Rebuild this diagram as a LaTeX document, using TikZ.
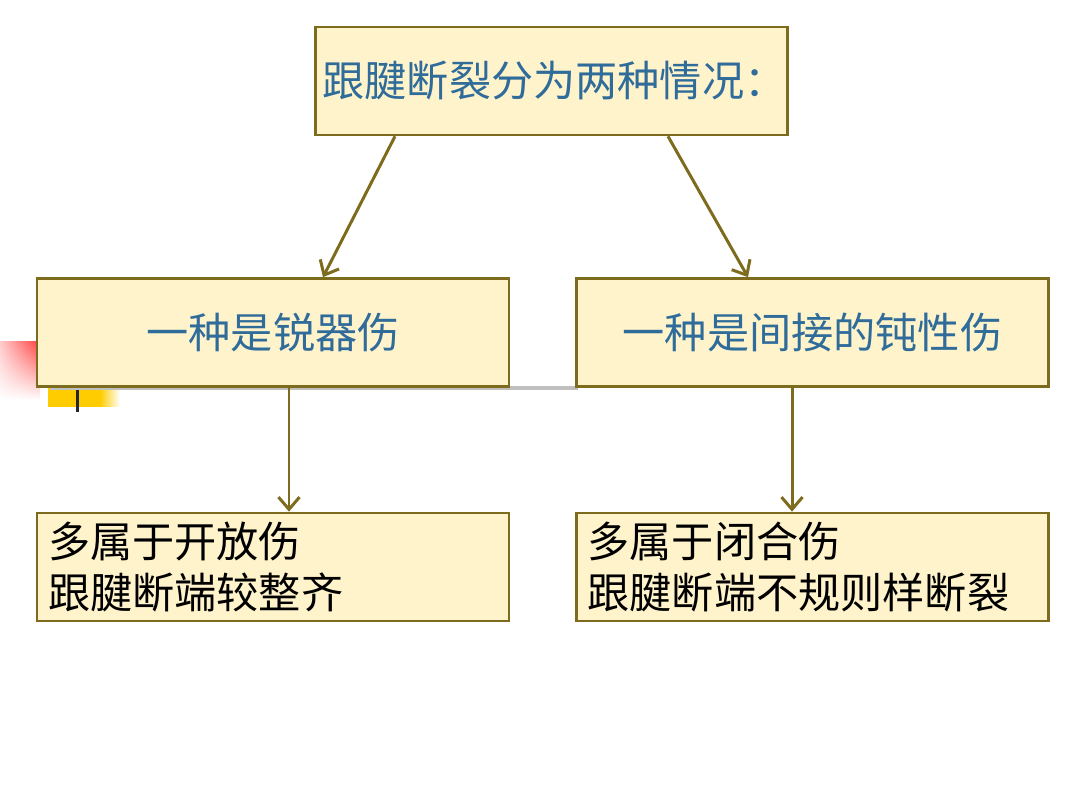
\documentclass[tikz,border=0pt]{standalone}
\usepackage{fontspec}
\newfontfamily\cjk{Noto Sans CJK SC}
\usetikzlibrary{arrows.meta,shadings}
\definecolor{boxfill}{HTML}{FFF3CC}
\definecolor{boxline}{HTML}{7D6B1E}
\definecolor{textblue}{HTML}{2F6C9A}
\definecolor{gold}{HTML}{FFCC00}
\begin{document}
\begin{tikzpicture}[
    box/.style={draw=boxline, line width=1.5pt, fill=boxfill, minimum width=9.44cm, minimum height=2.16cm, inner sep=0pt},
    link/.style={boxline, line width=1.7pt, -{Straight Barb[length=7pt,width=12pt]}}
  ]
  \useasboundingbox (0,0) rectangle (21.6,16.2);
  % bits of the slide behind the boxes
  \shade[upper right=red!75, upper left=red!20, lower left=white, lower right=white] (0,8.2) rectangle (0.8,9.36);
  \fill[gold] (0.96,8.06) rectangle (2.0,8.44);
  \shade[left color=gold, right color=white] (2.0,8.06) rectangle (2.4,8.44);
  \draw[black!85, line width=0.06cm] (1.54,8.44) -- (1.54,7.96);
  \draw[black!25, line width=0.09cm] (1,8.44) -- (11.55,8.44);
  % boxes
  \node[box, font=\cjk\fontsize{24}{28.5}\selectfont, text=textblue, text width=9.16cm, align=left] (top) at (11.03,14.58) {跟腱断裂分为两种情况：};
  \node[box, font=\cjk\fontsize{24}{28.5}\selectfont, text=textblue] (sharp) at (5.46,9.55) {一种是锐器伤};
  \node[box, font=\cjk\fontsize{24}{28.5}\selectfont, text=textblue] (blunt) at (16.25,9.55) {一种是间接的钝性伤};
  \node[box, font=\cjk\fontsize{24}{28.5}\selectfont, text width=9.0cm, align=left] (open) at (5.46,4.86) {多属于开放伤\\跟腱断端较整齐};
  \node[box, font=\cjk\fontsize{24}{28.5}\selectfont, text width=9.0cm, align=left] (closed) at (16.25,4.86) {多属于闭合伤\\跟腱断端不规则样断裂};
  % arrows
  \draw[link] ([xshift=-3.13cm]top.south) -- ([xshift=1cm]sharp.north);
  \draw[link] ([xshift=2.33cm]top.south) -- ([xshift=-1.29cm]blunt.north);
  \draw[link] ([xshift=0.32cm]sharp.south) -- ([xshift=0.32cm]open.north);
  \draw[link] ([xshift=-0.41cm]blunt.south) -- ([xshift=-0.41cm]closed.north);
\end{tikzpicture}
\end{document}
